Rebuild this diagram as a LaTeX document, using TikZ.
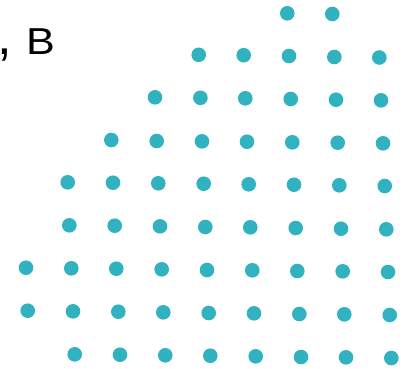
\documentclass[tikz,border=0pt]{standalone}
\usepackage{fontspec}
\usepackage{graphicx}
\setmainfont{Liberation Sans}
\definecolor{dotteal}{HTML}{30B2C0}
\begin{document}
\begin{tikzpicture}[x=1pt,y=-1pt,
  dot/.style={circle,fill=dotteal,draw=none,minimum size=14.6pt,inner sep=0pt},
  lbl/.style={inner sep=0pt,anchor=base west,font=\fontsize{37.5}{42}\selectfont}]
\useasboundingbox (0,0) rectangle (403,368);
\node[lbl] (t) at (-3,54.5) {\scalebox{1.4}{,}\hspace{14.3pt}\scalebox{1.15}[1]{B}};
\foreach \x/\y [count=\i] in {
  287.3/13.3, 332.3/14,
  198.7/54.8, 243.7/55.2, 289/56, 334.3/57, 379.3/57.5,
  155/97.3, 200.4/97.8, 245.3/98.3, 290.7/99, 336/99.7, 381/100.3,
  111.3/140, 156.7/141, 202/141.3, 247/141.7, 292.3/142.3, 337.7/142.7, 383/143.3,
  67.7/182.3, 113/182.7, 158.3/183.3, 203.7/183.7, 248.7/184.3, 294/184.7, 339.3/185.3, 384.7/186,
  69.3/225.3, 114.7/225.7, 160/226.3, 205.3/227, 250.3/227.3, 295.7/228, 341/228.7, 386.3/229.3,
  26/267.7, 71.3/268.3, 116.3/268.7, 161.7/269.3, 207/270, 252.3/270.3, 297.3/271, 342.7/271.3, 388/272,
  27.7/310.7, 73/311.3, 118.3/311.7, 163.3/312.3, 208.7/313, 254/313.3, 299.3/314, 344.3/314.3, 389.7/315,
  74.7/354.3, 120/354.7, 165.3/355.3, 210.3/355.7, 255.7/356.3, 301/357, 346/357.3, 391.3/358}
  \node[dot] (d\i) at (\x,\y) {};
\end{tikzpicture}
\end{document}
